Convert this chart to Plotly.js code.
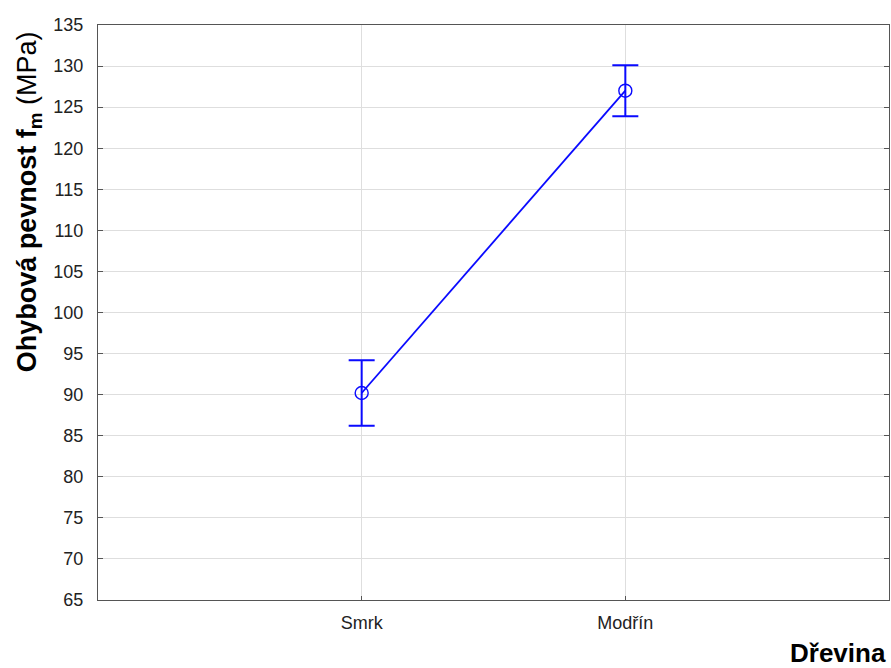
<!DOCTYPE html>
<html>
<head>
<meta charset="utf-8">
<script src="https://cdn.plot.ly/plotly-3.0.1.min.js"></script>
<style>
  html, body { margin: 0; padding: 0; background: #fff; }
  #chart { width: 891px; height: 668px; }
</style>
</head>
<body>
<div id="chart"></div>
<script>
// Bending strength by wood species: mean with error bars
const species = ['Smrk', 'Modřín'];
const meanStrength = [90.2, 127.0];
const errorHalfWidth = [4.0, 3.1];
const yTicks = [65, 70, 75, 80, 85, 90, 95, 100, 105, 110, 115, 120, 125, 130, 135];

const blue = '#0a0aff';
const axisColor = '#555555';
const gridColor = '#dedede';
const fontFamily = 'Liberation Sans, Arial, sans-serif';

const trace = {
  type: 'scatter',
  mode: 'lines+markers',
  x: species,
  y: meanStrength,
  line: { color: blue, width: 1.8 },
  marker: { symbol: 'circle-open', size: 13, color: blue, line: { width: 1.4, color: blue } },
  error_y: {
    type: 'data',
    array: errorHalfWidth,
    visible: true,
    color: blue,
    thickness: 2,
    width: 13
  },
  hoverinfo: 'x+y'
};

const layout = {
  width: 891,
  height: 668,
  margin: { l: 98, r: 2, t: 25, b: 68 },
  paper_bgcolor: '#ffffff',
  plot_bgcolor: '#ffffff',
  showlegend: false,
  font: { family: fontFamily, color: '#222222', size: 18 },
  xaxis: {
    type: 'category',
    range: [-1, 2],
    showgrid: true,
    gridcolor: gridColor,
    gridwidth: 1,
    showline: true,
    linecolor: axisColor,
    linewidth: 1.2,
    mirror: true,
    ticks: 'inside',
    ticklen: 4,
    tickcolor: axisColor,
    ticklabelstandoff: 6,
    tickfont: { size: 18, color: '#222222' },
    zeroline: false,
    fixedrange: true
  },
  yaxis: {
    range: [65, 135],
    tickvals: yTicks,
    ticktext: yTicks.map(String),
    showgrid: true,
    gridcolor: gridColor,
    gridwidth: 1,
    showline: true,
    linecolor: axisColor,
    linewidth: 1.2,
    mirror: 'ticks',
    ticks: 'inside',
    ticklen: 5,
    tickcolor: axisColor,
    ticklabelstandoff: 10,
    tickfont: { size: 18, color: '#222222' },
    zeroline: false,
    fixedrange: true
  },
  annotations: [
    {
      text: '<b>Ohybová pevnost f<sub>m</sub></b> (MPa)',
      xref: 'paper', yref: 'paper',
      x: -0.087, y: 0.692,
      xanchor: 'center', yanchor: 'middle',
      textangle: -90,
      showarrow: false,
      font: { family: fontFamily, size: 27, color: '#000000' }
    },
    {
      text: '<b>Dřevina</b>',
      xref: 'paper', yref: 'paper',
      x: 0.999, y: -0.093,
      xanchor: 'right', yanchor: 'middle',
      showarrow: false,
      font: { family: fontFamily, size: 26, color: '#000000' }
    }
  ]
};

Plotly.newPlot('chart', [trace], layout, { displayModeBar: false, staticPlot: true });
</script>
</body>
</html>
